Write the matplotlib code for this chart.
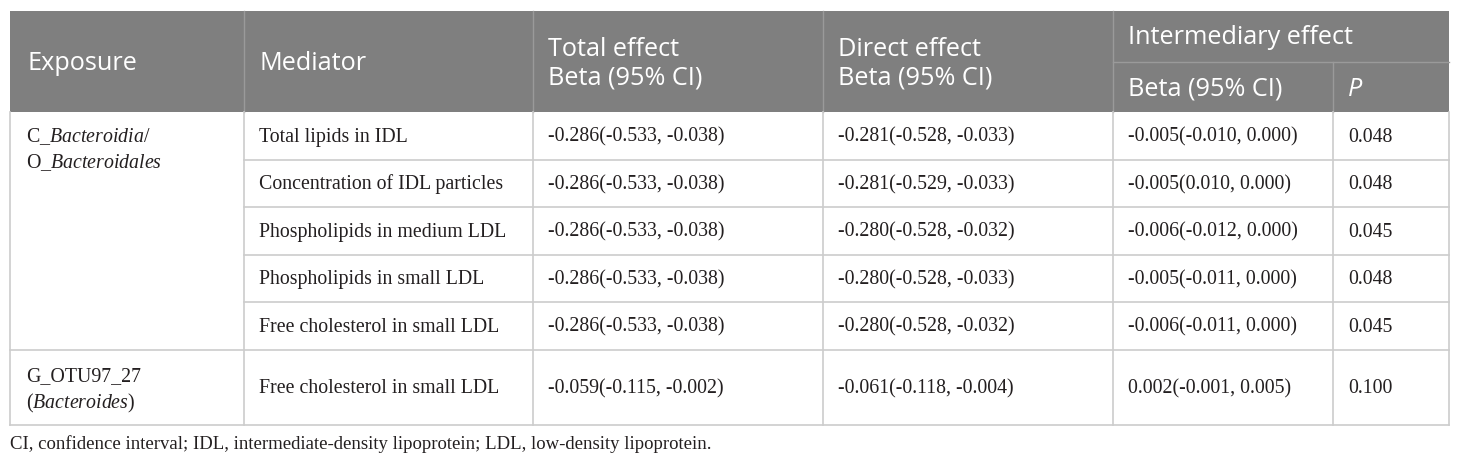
import matplotlib
matplotlib.use("Agg")
import matplotlib.pyplot as plt

plt.rcParams['mathtext.fontset'] = 'custom'
plt.rcParams['mathtext.rm'] = 'Liberation Serif'
plt.rcParams['mathtext.it'] = 'Liberation Serif:italic'

# ---------------- data ----------------
header_cols = ["Exposure", "Mediator", "Total effect\nBeta (95% CI)",
               "Direct effect\nBeta (95% CI)", "Intermediary effect"]
sub_headers = ["Beta (95% CI)", "P"]

exposure_lines = [
    [r"C_$\mathit{Bacteroidia/}$", r"O_$\mathit{Bacteroidales}$"],
    [r"G_OTU97_27", r"($\mathit{Bacteroides}$)"],
]
group_sizes = [5, 1]

mediators = ["Total lipids in IDL", "Concentration of IDL particles",
             "Phospholipids in medium LDL", "Phospholipids in small LDL",
             "Free cholesterol in small LDL", "Free cholesterol in small LDL"]
total_effect = ["-0.286(-0.533, -0.038)"] * 5 + ["-0.059(-0.115, -0.002)"]
direct_effect = ["-0.281(-0.528, -0.033)", "-0.281(-0.529, -0.033)",
                 "-0.280(-0.528, -0.032)", "-0.280(-0.528, -0.033)",
                 "-0.280(-0.528, -0.032)", "-0.061(-0.118, -0.004)"]
inter_beta = ["-0.005(-0.010, 0.000)", "-0.005(0.010, 0.000)",
              "-0.006(-0.012, 0.000)", "-0.005(-0.011, 0.000)",
              "-0.006(-0.011, 0.000)", "0.002(-0.001, 0.005)"]
inter_p = ["0.048", "0.048", "0.045", "0.048", "0.045", "0.100"]

footnote = ("CI, confidence interval; IDL, intermediate-density lipoprotein; "
            "LDL, low-density lipoprotein.")

# ---------------- layout (pixels) ----------------
W, H = 1460, 465
col_x = [10, 244, 533, 823, 1113, 1333, 1449]
head_top, head_bot, sub_line = 11, 112, 62
row_y = [112, 160, 207, 255, 302, 350, 425]

header_bg = "#7f7f7f"
header_line = "#9a9a9a"
grid = "#cccccc"
txt = "#231f20"
pad = 15

fig = plt.figure(figsize=(W / 100, H / 100), dpi=100)
ax = fig.add_axes([0, 0, 1, 1])
ax.set_xlim(0, W)
ax.set_ylim(H, 0)
ax.axis("off")

# header background
ax.add_patch(plt.Rectangle((col_x[0], head_top), col_x[-1] - col_x[0],
                           head_bot - head_top, facecolor=header_bg,
                           edgecolor="none", zorder=1))
# header lines
for x in col_x[1:5]:
    ax.plot([x, x], [head_top, head_bot], color=header_line, lw=1, zorder=2)
ax.plot([col_x[5], col_x[5]], [sub_line, head_bot], color=header_line, lw=1, zorder=2)
ax.plot([col_x[4], col_x[-1]], [sub_line, sub_line], color=header_line, lw=1, zorder=2)

hfont = dict(family="Open Sans", color="white", fontsize=18.2)
hmid = (head_top + head_bot) / 2 + 2
ax.text(col_x[0] + pad + 2, hmid, header_cols[0], va="center", ha="left", **hfont)
ax.text(col_x[1] + pad, hmid, header_cols[1], va="center", ha="left", **hfont)
ax.text(col_x[2] + pad, hmid, header_cols[2], va="center", ha="left",
        linespacing=1.2, **hfont)
ax.text(col_x[3] + pad, hmid, header_cols[3], va="center", ha="left",
        linespacing=1.2, **hfont)
ax.text(col_x[4] + pad, (head_top + sub_line) / 2 + 1, header_cols[4],
        va="center", ha="left", **hfont)
ax.text(col_x[4] + pad, (sub_line + head_bot) / 2 + 2, sub_headers[0],
        va="center", ha="left", **hfont)
ax.text(col_x[5] + pad, (sub_line + head_bot) / 2 + 2, sub_headers[1],
        va="center", ha="left", fontstyle="italic", **hfont)

# body grid
ax.plot([col_x[0], col_x[0]], [head_bot, row_y[-1]], color=grid, lw=1.2)
for x in col_x[1:]:
    ax.plot([x, x], [head_bot, row_y[-1]], color=grid, lw=1.2)
start = 0
for g, n in enumerate(group_sizes):
    for k in range(1, n):
        y = row_y[start + k]
        ax.plot([col_x[1], col_x[-1]], [y, y], color=grid, lw=1.2)
    yb = row_y[start + n]
    ax.plot([col_x[0], col_x[-1]], [yb, yb], color=grid, lw=1.2)
    start += n

bfont = dict(family="Liberation Serif", color=txt, fontsize=14.3)
columns = [mediators, total_effect, direct_effect, inter_beta, inter_p]
col_start = [col_x[1], col_x[2], col_x[3], col_x[4], col_x[5]]
for i in range(len(mediators)):
    yc = (row_y[i] + row_y[i + 1]) / 2 + 1
    for c, vals in enumerate(columns):
        ax.text(col_start[c] + pad, yc, vals[i], va="center", ha="left", **bfont)

# exposure labels
exp_y = [[137, 163], [377, 403]]
for g in range(len(group_sizes)):
    for j, line in enumerate(exposure_lines[g]):
        ax.text(col_x[0] + pad + 1, exp_y[g][j], line, va="center", ha="left", **bfont)

ax.text(col_x[0], 444, footnote, va="center", ha="left",
        family="Liberation Serif", color=txt, fontsize=13.5)

fig.savefig("out.png", dpi=100)
